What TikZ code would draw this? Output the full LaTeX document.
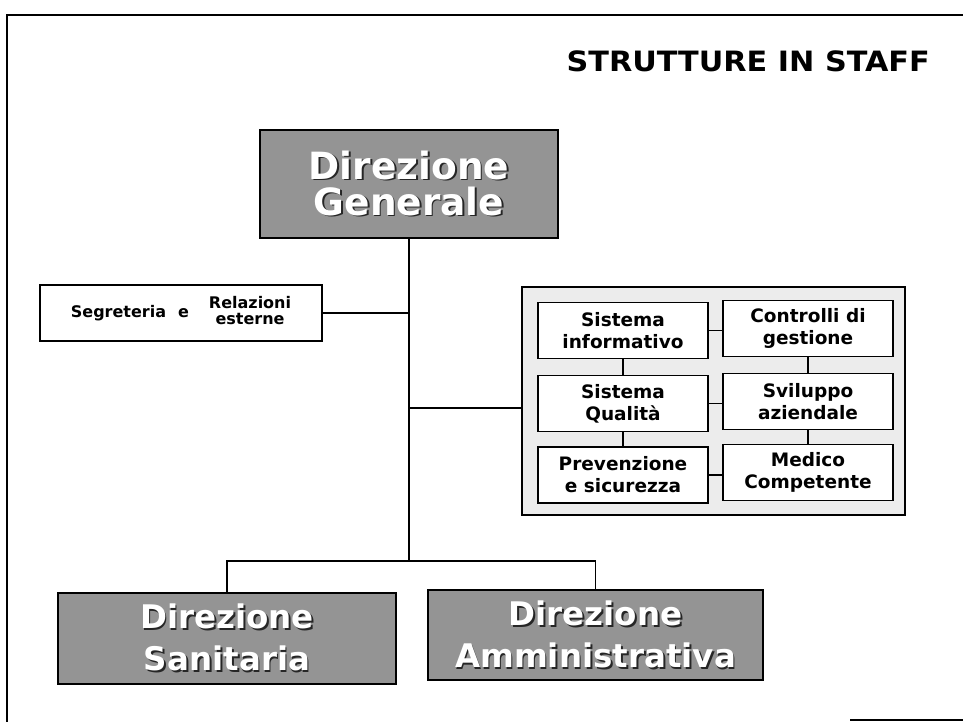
\documentclass[tikz,border=0pt]{standalone}
\usepackage{fontspec}
\setmainfont{DejaVu Sans}
\newfontfamily\titlefont[FakeStretch=1.08]{DejaVu Sans}
\definecolor{boxgray}{RGB}{148,148,148}
\definecolor{staffbg}{RGB}{236,236,236}
\newcommand\shd[1]{\leavevmode\rlap{\kern1.8pt\raisebox{-1.8pt}{\textcolor{black!85}{#1}}}\textcolor{white}{#1}}
\tikzset{
  conn/.style={line width=1.6pt},
  dirbox/.style={draw=black, line width=1.6pt, fill=boxgray, inner sep=0pt, align=center},
  staffbox/.style={draw=black, line width=1.4pt, fill=white, minimum width=170pt, minimum height=56pt,
    inner sep=0pt, align=center, font=\bfseries\fontsize{18.5}{22}\selectfont},
  groupbox/.style={draw=black, line width=1.6pt, fill=staffbg, minimum width=383pt, minimum height=228pt, inner sep=0pt},
  segbox/.style={draw=black, line width=1.4pt, fill=white, minimum width=282pt, minimum height=56pt,
    inner sep=0pt, font=\bfseries\fontsize{16}{17}\selectfont},
  frameline/.style={line width=2pt}
}
\begin{document}
\begin{tikzpicture}[x=1pt,y=-1pt]
\useasboundingbox (0,0) rectangle (963,722);
% page frame
\draw[frameline] (7,722) -- (7,15) -- (970,15);
\draw[frameline] (850,720) -- (970,720);
% title
\node[anchor=base east, inner sep=0pt, font=\titlefont\bfseries\fontsize{28}{30}\selectfont] (title) at (930,72) {STRUTTURE IN STAFF};
% Direzione Generale
\node[dirbox, minimum width=298pt, minimum height=108pt, font=\bfseries\fontsize{37.5}{36}\selectfont] (dg) at (409,184)
  {\shd{Direzione}\\\shd{Generale}};
% Segreteria
\node[segbox] (seg) at (181,313)
  {Segreteria\hspace{12pt}e\hspace{20pt}\begin{tabular}{@{}c@{}}Relazioni\\[-1pt]esterne\end{tabular}};
% staff group
\node[groupbox] (grp) at (713.5,401) {};
\node[staffbox] (s1) at (623,330.5) {Sistema\\informativo};
\node[staffbox] (s2) at (808,328.5) {Controlli di\\gestione};
\node[staffbox] (s3) at (623,403.5) {Sistema\\Qualità};
\node[staffbox] (s4) at (808,401.5) {Sviluppo\\aziendale};
\node[staffbox] (s5) at (623,475) {Prevenzione\\e sicurezza};
\node[staffbox] (s6) at (808,472.5) {Medico\\Competente};
\draw[conn] (s1.east) -- (s2.west |- s1.east);
\draw[conn] (s3.east) -- (s4.west |- s3.east);
\draw[conn] (s5.east) -- (s6.west |- s5.east);
\draw[conn] (s1.south) -- (s3.north);
\draw[conn] (s3.south) -- (s5.north);
\draw[conn] (s2.south) -- (s4.north);
\draw[conn] (s4.south) -- (s6.north);
% bottom directions
\node[dirbox, minimum width=338pt, minimum height=91pt, font=\bfseries\fontsize{32.5}{42}\selectfont] (ds) at (227,638.5)
  {\shd{Direzione}\\\shd{Sanitaria}};
\node[dirbox, minimum width=335pt, minimum height=90pt, font=\bfseries\fontsize{32.5}{42}\selectfont] (da) at (595.5,635)
  {\shd{Direzione}\\\shd{Amministrativa}};
% connectors
\coordinate (jb) at (409,561);
\draw[conn] (dg.south) -- (jb);
\draw[conn] (seg.east) -- (seg.east -| dg.south);
\draw[conn] (409,408) coordinate (js) -- (js -| grp.west);
\draw[conn] (ds.north) -- (ds.north |- jb) -- (da.north |- jb) -- (da.north);
\end{tikzpicture}
\end{document}
